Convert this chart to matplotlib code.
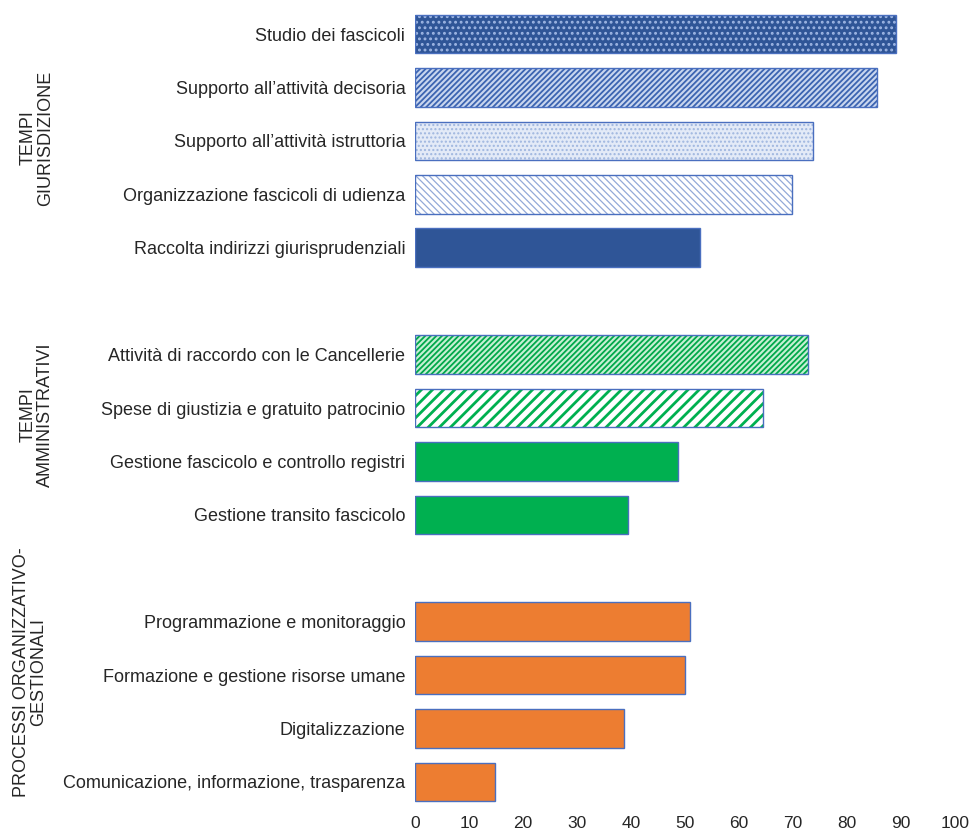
import matplotlib
matplotlib.use("Agg")
import matplotlib.pyplot as plt

plt.rcParams['font.family'] = ['Liberation Sans', 'DejaVu Sans']

categories = [
    "Studio dei fascicoli",
    "Supporto all\u2019attività decisoria",
    "Supporto all\u2019attività istruttoria",
    "Organizzazione fascicoli di udienza",
    "Raccolta indirizzi giurisprudenziali",
    "Attività di raccordo con le Cancellerie",
    "Spese di giustizia e gratuito patrocinio",
    "Gestione fascicolo e controllo registri",
    "Gestione transito fascicolo",
    "Programmazione e monitoraggio",
    "Formazione e gestione risorse umane",
    "Digitalizzazione",
    "Comunicazione, informazione, trasparenza",
]
values = [89.1, 85.6, 73.7, 69.8, 52.8, 72.8, 64.4, 48.7, 39.4, 50.9, 50.0, 38.7, 14.8]
groups = ["TEMPI\nGIURISDIZIONE", "TEMPI\nAMMINISTRATIVI", "PROCESSI ORGANIZZATIVO-\nGESTIONALI"]
group_sizes = [5, 4, 4]
xticks = [0, 10, 20, 30, 40, 50, 60, 70, 80, 90, 100]

# styles: (facecolor, hatch, hatchcolor, hatch linewidth)
styles = [
    ("#2f5597", "...", "#9db5e3", 1.3),
    ("#c9d6ef", "//////", "#3c64b1", 1.3),
    ("#e3eaf7", "....", "#9fb6df", 1.0),
    ("#ffffff", "\\\\\\\\\\", "#93a9d8", 0.9),
    ("#2f5597", None, None, 0),
    ("#c6efd4", "//////", "#00a84a", 1.3),
    ("#ffffff", "///", "#00b050", 2.0),
    ("#00b050", None, None, 0),
    ("#00b050", None, None, 0),
    ("#ed7d31", None, None, 0),
    ("#ed7d31", None, None, 0),
    ("#ed7d31", None, None, 0),
    ("#ed7d31", None, None, 0),
]
edge = "#4a6fbf"

# positions with an empty slot between groups
positions = []
slot = 0
for gi, n in enumerate(group_sizes):
    for k in range(n):
        positions.append(slot)
        slot += 1
    slot += 1

fig = plt.figure(figsize=(9.71, 8.34), dpi=100)
ax = fig.add_axes([415/971, 1-808.7/834, (955-415)/971, (808.7-7.3)/834])

h = 0.72
for pos, v, (fc, hatch, hc, hlw) in zip(positions, values, styles):
    ax.barh(pos, v, height=h, color=fc, edgecolor="none", linewidth=0)
    if hatch:
        plt.rcParams['hatch.linewidth'] = hlw
        ax.barh(pos, v, height=h, color="none", edgecolor=hc, hatch=hatch, linewidth=0)
    ax.barh(pos, v, height=h, color="none", edgecolor=edge, linewidth=1.0)

ax.set_ylim(14.5, -0.5)
ax.set_xlim(0, 100)
ax.set_yticks(positions)
ax.set_yticklabels(categories, fontsize=13, color="#262626")
ax.set_xticks(xticks)
ax.set_xticklabels([str(t) for t in xticks], fontsize=12.5, color="#262626")
ax.tick_params(axis="both", length=0)
ax.tick_params(axis="y", pad=7)
ax.tick_params(axis="x", pad=5)
for s in ax.spines.values():
    s.set_visible(False)

group_y = [138, 415, 672]
group_x = [37, 37, 30]
for g, gx, gy in zip(groups, group_x, group_y):
    fig.text(gx/971, 1-gy/834, g, rotation=90, ha="center", va="center",
             multialignment="center", fontsize=13, color="#262626",
             linespacing=1.0)

fig.savefig("out.png", dpi=100)
